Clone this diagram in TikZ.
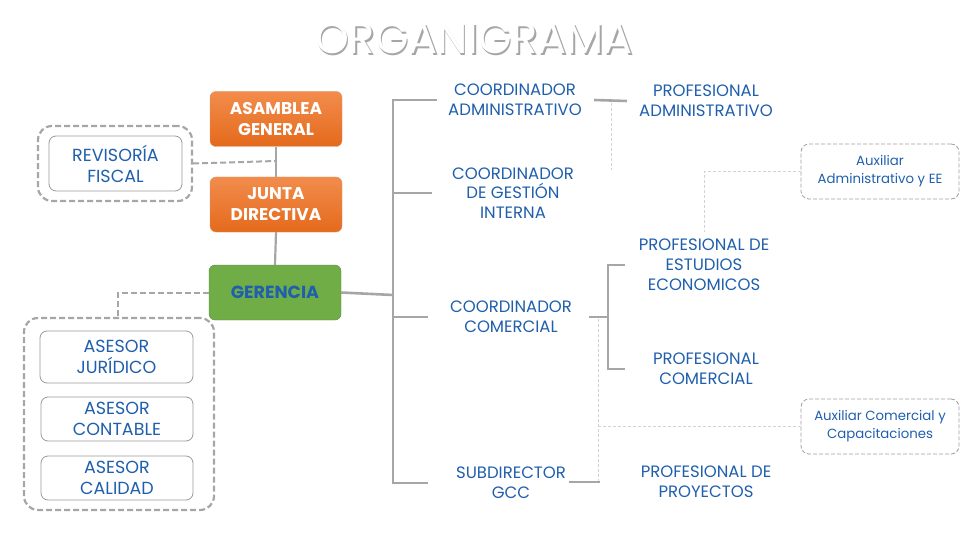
\documentclass[tikz,border=0pt]{standalone}
\usepackage{fontspec}
\setmainfont{Poppins}
\usetikzlibrary{positioning}
\definecolor{tblue}{HTML}{1F5FAD}
\definecolor{lgray}{HTML}{A6A6A6}
\definecolor{ogtop}{HTML}{F28C4C}
\definecolor{ogbot}{HTML}{E46A1C}
\definecolor{gfill}{HTML}{70AD47}
\tikzset{
  orgbox/.style={rectangle, rounded corners=6pt, draw=ogbot!80!black!60, top color=ogtop, bottom color=ogbot, text=white, font=\fontsize{17}{21}\selectfont\bfseries, align=center, minimum width=132pt, minimum height=55pt, inner sep=2pt},
  grnbox/.style={rectangle, rounded corners=6pt, draw=gfill!80!black, fill=gfill, text=tblue, font=\fontsize{17.5}{21}\selectfont\bfseries, align=center, minimum width=132pt, minimum height=55pt},
  wbox/.style={rectangle, rounded corners=7pt, draw=gray!80, line width=0.8pt, fill=white, text=tblue, font=\fontsize{17.5}{21}\selectfont, align=center, inner sep=1pt},
  outerbox/.style={rectangle, rounded corners=14pt, draw=gray!70, dashed, dash pattern=on 6pt off 3pt, line width=2.2pt},
  auxbox/.style={rectangle, rounded corners=8pt, draw=gray!75, dash pattern=on 4pt off 2pt, line width=0.8pt, text=tblue, font=\fontsize{13.3}{18}\selectfont, align=center, minimum width=158pt, minimum height=55pt},
  role/.style={text=tblue, font=\fontsize{16.5}{19.8}\selectfont, align=center, inner sep=0pt},
  conn/.style={draw=lgray, line width=2.6pt},
  dconn/.style={draw=gray!70, line width=2pt, dash pattern=on 6pt off 3pt},
  fconn/.style={draw=gray!35, line width=0.7pt, dash pattern=on 3pt off 2pt},
}
\begin{document}
\begin{tikzpicture}[x=1pt,y=-1pt]
\useasboundingbox (0,0) rectangle (960,540);
% title
\node[text=gray!70, font=\fontsize{43}{43}\selectfont, inner sep=0pt] at (475.5,40) {ORGANIGRAMA};
\node[text=white, font=\fontsize{43}{43}\selectfont, inner sep=0pt] (title) at (474,38.5) {ORGANIGRAMA};
% left column
\node[orgbox] (asam) at (276,119) {ASAMBLEA\\GENERAL};
\node[orgbox] (junta) at (276,204.5) {JUNTA\\DIRECTIVA};
\node[grnbox] (ger) at (275,292.5) {GERENCIA};
\draw[conn, line width=2.2pt] (asam.south) -- (junta.north);
\draw[conn, line width=2.2pt] (junta.south) -- (ger.north);
% revisoria
\node[outerbox, minimum width=154pt, minimum height=75pt] (revout) at (115,163.5) {};
\node[wbox, minimum width=133pt, minimum height=55pt] (rev) at (115.5,163.5) {REVISORÍA\\FISCAL};
\coordinate (revj) at (276,161);
\draw[dconn] (revout.east) -- (revj);
% asesores
\node[outerbox, minimum width=190pt, minimum height=192pt] (asout) at (119,414) {};
\node[wbox, minimum width=153pt, minimum height=52pt] (jur) at (116.5,357) {ASESOR\\JURÍDICO};
\node[wbox, minimum width=152pt, minimum height=44pt] (cont) at (117,419) {ASESOR\\CONTABLE};
\node[wbox, minimum width=152pt, minimum height=44pt] (cal) at (117,478) {ASESOR\\CALIDAD};
\draw[dconn] (ger.west) -| (asout.north -| 118,0);
% coordinators
\node[role] (cadm) at (515,100) {COORDINADOR\\ADMINISTRATIVO};
\node[role] (cgi) at (513,193) {COORDINADOR\\DE GESTIÓN\\INTERNA};
\node[role] (ccom) at (511,317) {COORDINADOR\\COMERCIAL};
\node[role] (sub) at (511,483) {SUBDIRECTOR\\GCC};
\coordinate (sptop) at (393,100);
\coordinate (spbot) at (393,483);
\coordinate (gerj) at (393,295);
\draw[conn] (ger.east) -- (gerj);
\draw[conn] (437,100) -- (sptop) -- (spbot) -- (428,483);
\draw[conn] (sptop |- cgi) -- (432,193);
\draw[conn] (sptop |- ccom) -- (428,317);
% professionals
\node[role] (padm) at (706,101) {PROFESIONAL\\ADMINISTRATIVO};
\node[role] (pee) at (704,265) {PROFESIONAL DE\\ESTUDIOS\\ECONOMICOS};
\node[role] (pcom) at (706,369) {PROFESIONAL\\COMERCIAL};
\node[role] (pproy) at (706,482) {PROFESIONAL DE\\PROYECTOS};
\draw[conn] (594,100) -- (627,101);
\draw[fconn] (611,103) -- (611,170);
\draw[conn] (589,317) -- (608,317);
\draw[conn] (625,265) -- (608,265) -- (608,369) -- (625,369);
\draw[conn] (569,482) -- (600,482);
% auxiliaries
\node[auxbox] (auxadm) at (880,171.5) {Auxiliar\\Administrativo y EE};
\node[auxbox] (auxcom) at (880,426.5) {Auxiliar Comercial y\\Capacitaciones};
\draw[fconn] (auxadm.west) -- (704,171.5) -- (704,232);
\draw[fconn] (598,319) -- (598,481);
\draw[fconn] (598,426.5) -- (auxcom.west);
\end{tikzpicture}
\end{document}
